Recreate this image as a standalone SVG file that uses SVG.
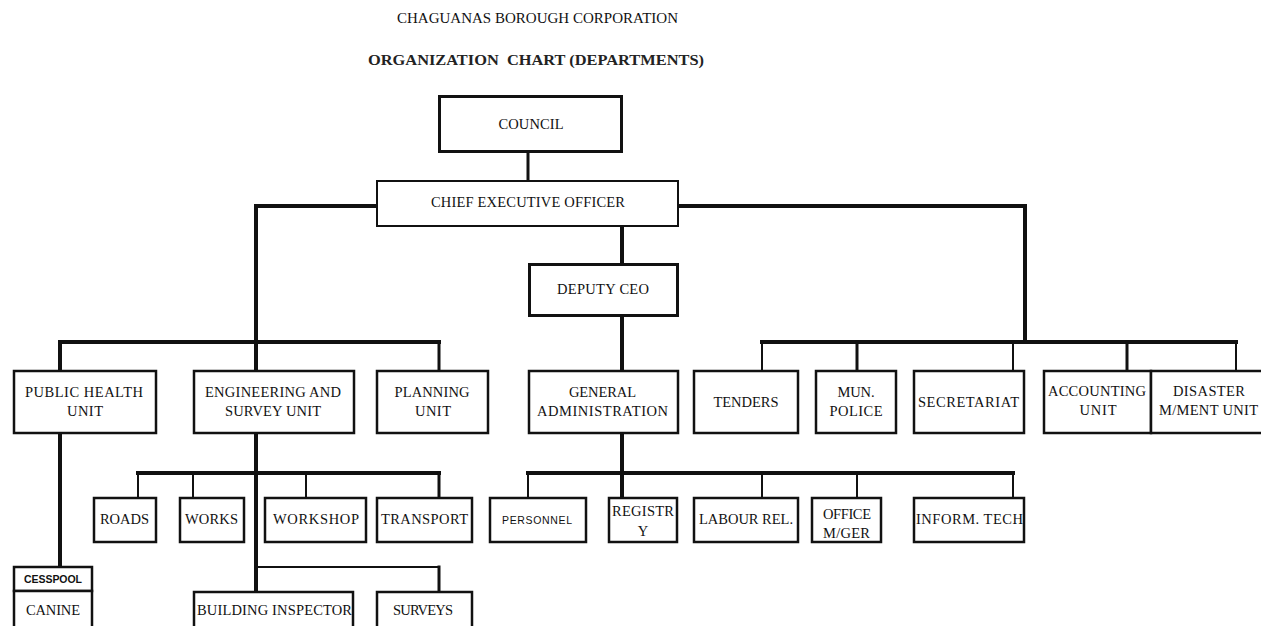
<svg xmlns="http://www.w3.org/2000/svg" width="1261" height="626" viewBox="0 0 1261 626">
<style>
.bg{fill:#fff}
.box{fill:#fff;stroke:#111;stroke-width:2.5}
.thick{stroke-width:3}
.thin{stroke-width:2}
.t{font-family:"Liberation Serif","Times New Roman",serif;font-size:14.5px;fill:#111;text-anchor:middle}
.s{font-family:"Liberation Sans",Arial,sans-serif;font-size:10.5px;fill:#111;text-anchor:middle}
.sb{font-family:"Liberation Sans",Arial,sans-serif;font-size:10.5px;font-weight:bold;fill:#111;text-anchor:middle}
.title{font-family:"Liberation Serif","Times New Roman",serif;font-size:15px;fill:#111;text-anchor:middle}
.title2{font-family:"Liberation Serif","Times New Roman",serif;font-size:14px;font-weight:bold;fill:#222;text-anchor:middle;white-space:pre}
#connectors path{fill:none;stroke:#111;stroke-linecap:square}
.w4{stroke-width:4}
.w3{stroke-width:3}
.w2{stroke-width:2}
</style>
<rect class="bg" x="0" y="0" width="1261" height="626"/>
<g id="titles">
<text class="title" x="537.5" y="23" textLength="281" lengthAdjust="spacingAndGlyphs">CHAGUANAS BOROUGH CORPORATION</text>
<text class="title2" x="536" y="65" textLength="336" lengthAdjust="spacingAndGlyphs" xml:space="preserve">ORGANIZATION  CHART (DEPARTMENTS)</text>
</g>
<g id="connectors">
<path class="w3" d="M528 153V180"/>
<path class="w4" d="M376 206H256V342"/>
<path class="w4" d="M622 227V263"/>
<path class="w4" d="M679 206H1025V342"/>
<path class="w4" d="M60 342H439"/>
<path class="w4" d="M60 342V370"/>
<path class="w4" d="M256 342V370"/>
<path class="w3" d="M439 342V370"/>
<path class="w4" d="M762 342H1236"/>
<path class="w2" d="M762 342V370"/>
<path class="w3" d="M857 342V370"/>
<path class="w2" d="M1013 342V370"/>
<path class="w3" d="M1127 342V370"/>
<path class="w2" d="M1236 342V370"/>
<path class="w4" d="M622 317V370"/>
<path class="w4" d="M60 434V566"/>
<path class="w4" d="M256 434V591"/>
<path class="w4" d="M138 473H439"/>
<path class="w2" d="M138 473V497"/>
<path class="w2" d="M193 473V497"/>
<path class="w2" d="M306 473V497"/>
<path class="w3" d="M439 473V497"/>
<path class="w2" d="M256 567H439"/>
<path class="w3" d="M439 567V591"/>
<path class="w4" d="M622 434V497"/>
<path class="w4" d="M528 473H1013"/>
<path class="w2" d="M528 473V497"/>
<path class="w2" d="M762 473V497"/>
<path class="w2" d="M857 473V497"/>
<path class="w2" d="M1013 473V497"/>
</g>
<g id="council"><rect class="box thick" x="439.5" y="96.5" width="182" height="55"/><text class="t" x="531" y="129" textLength="65">COUNCIL</text></g>
<g id="ceo"><rect class="box thin" x="377" y="181" width="301" height="45"/><text class="t" x="528" y="207" textLength="194">CHIEF EXECUTIVE OFFICER</text></g>
<g id="deputy-ceo"><rect class="box thick" x="529.5" y="264.5" width="148" height="51"/><text class="t" x="603" y="294" textLength="92">DEPUTY CEO</text></g>
<g id="public-health"><rect class="box" x="14" y="371" width="142" height="62"/><text class="t" x="84" y="397" textLength="118">PUBLIC HEALTH</text><text class="t" x="85" y="416" textLength="36">UNIT</text></g>
<g id="engineering"><rect class="box" x="194" y="371" width="160" height="62"/><text class="t" x="273" y="397" textLength="136">ENGINEERING AND</text><text class="t" x="273" y="416" textLength="96">SURVEY UNIT</text></g>
<g id="planning"><rect class="box" x="377" y="371" width="111" height="62"/><text class="t" x="432" y="397" textLength="75">PLANNING</text><text class="t" x="433" y="416" textLength="36">UNIT</text></g>
<g id="general-administration"><rect class="box" x="529" y="371" width="149" height="62"/><text class="t" x="602.5" y="397" textLength="67">GENERAL</text><text class="t" x="602.5" y="416" textLength="131">ADMINISTRATION</text></g>
<g id="tenders"><rect class="box" x="694" y="371" width="104" height="62"/><text class="t" x="746" y="407" textLength="65">TENDERS</text></g>
<g id="mun-police"><rect class="box" x="816" y="371" width="80" height="62"/><text class="t" x="856" y="397" textLength="37">MUN.</text><text class="t" x="856" y="416" textLength="53">POLICE</text></g>
<g id="secretariat"><rect class="box" x="914" y="371" width="110" height="62"/><text class="t" x="968.5" y="407" textLength="101">SECRETARIAT</text></g>
<g id="accounting"><rect class="box" x="1044" y="371" width="107" height="62"/><text class="t" x="1097" y="396" textLength="98">ACCOUNTING</text><text class="t" x="1098" y="415" textLength="37">UNIT</text></g>
<g id="disaster"><rect class="box" x="1151" y="371" width="118" height="62"/><text class="t" x="1209" y="396" textLength="72">DISASTER</text><text class="t" x="1208.5" y="415" textLength="99">M/MENT UNIT</text></g>
<g id="roads"><rect class="box" x="94" y="498" width="62" height="44"/><text class="t" x="124.5" y="524" textLength="49">ROADS</text></g>
<g id="works"><rect class="box" x="180" y="498" width="64" height="44"/><text class="t" x="211.5" y="524" textLength="53">WORKS</text></g>
<g id="workshop"><rect class="box" x="265" y="498" width="101" height="44"/><text class="t" x="316" y="524" textLength="86">WORKSHOP</text></g>
<g id="transport"><rect class="box" x="377" y="498" width="95" height="44"/><text class="t" x="424.5" y="524" textLength="87">TRANSPORT</text></g>
<g id="personnel"><rect class="box" x="490" y="498" width="96" height="44"/><text class="s" x="537" y="524" textLength="70">PERSONNEL</text></g>
<g id="registry"><rect class="box" x="609" y="498" width="68" height="44"/><text class="t" x="643" y="516" textLength="62">REGISTR</text><text class="t" x="643" y="536">Y</text></g>
<g id="labour-rel"><rect class="box" x="694" y="498" width="104" height="44"/><text class="t" x="746" y="524" textLength="94">LABOUR REL.</text></g>
<g id="office-mger"><rect class="box" x="812" y="498" width="69" height="44"/><text class="t" x="847" y="519" textLength="48">OFFICE</text><text class="t" x="846.5" y="538" textLength="47">M/GER</text></g>
<g id="inform-tech"><rect class="box" x="914" y="498" width="110" height="44"/><text class="t" x="969.5" y="524" textLength="107">INFORM. TECH</text></g>
<g id="cesspool"><rect class="box" x="14" y="567" width="78" height="24"/><text class="sb" x="53" y="583" textLength="58">CESSPOOL</text></g>
<g id="canine"><rect class="box" x="14" y="591" width="78" height="50"/><text class="t" x="53" y="615" textLength="54">CANINE</text></g>
<g id="building-inspector"><rect class="box" x="194" y="592" width="159" height="50"/><text class="t" x="274.5" y="615" textLength="155">BUILDING INSPECTOR</text></g>
<g id="surveys"><rect class="box" x="377" y="592" width="95" height="50"/><text class="t" x="423" y="615" textLength="60">SURVEYS</text></g>
</svg>
